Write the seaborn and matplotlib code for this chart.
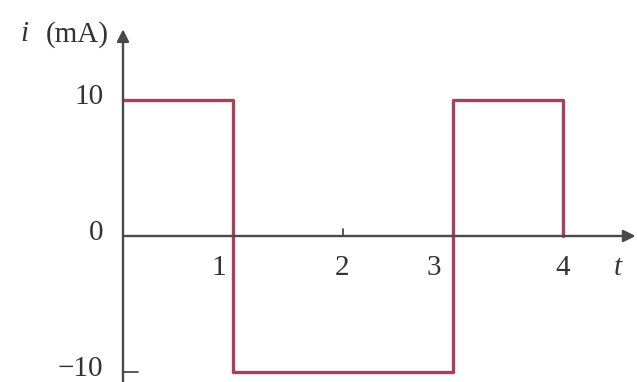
import matplotlib
matplotlib.use("Agg")
import matplotlib.pyplot as plt
import seaborn as sns
import pandas as pd

# waveform vertices
t_vals = [0, 1, 1, 3, 3, 4, 4]
i_vals = [10, 10, -10, -10, 10, 10, 0]
x_tick_labels = ["1", "2", "3", "4"]
x_tick_pos = [1, 2, 3, 4]
y_tick_labels = ["10", "0", "\u221210"]
y_tick_pos = [10, 0, -10]

sns.set_style("white")
plt.rcParams['font.family'] = ['Liberation Serif', 'DejaVu Serif']

fig = plt.figure(figsize=(6.37, 3.82), dpi=100)
ax = fig.add_axes([0, 0, 1, 1])
ax.set_xlim(-123 / 110, (637 - 123) / 110)
ax.set_ylim((236 - 382) / 13.6, 236 / 13.6)
ax.axis('off')

df = pd.DataFrame({"t": t_vals, "i": i_vals})
sns.lineplot(data=df, x="t", y="i", sort=False, estimator=None,
             color="#a8405a", linewidth=2.4, ax=ax)

axis_col = "#4a4a4a"
# x axis with arrow
ax.annotate("", xy=(4.66, 0), xytext=(0, 0),
            arrowprops=dict(arrowstyle="-|>", color=axis_col, lw=1.7,
                            mutation_scale=18, shrinkA=0, shrinkB=0))
# y axis with arrow
ax.annotate("", xy=(0, 15.2), xytext=(0, -11),
            arrowprops=dict(arrowstyle="-|>", color=axis_col, lw=1.7,
                            mutation_scale=18, shrinkA=0, shrinkB=0))
# small ticks
ax.plot([2, 2], [0, 0.5], color=axis_col, lw=1.3)
ax.plot([0, 0.14], [-10, -10], color=axis_col, lw=1.3)

fs = 21
tcol = "#333333"
offsets = {1: -0.13, 2: -0.01, 3: -0.17, 4: 0}
for p, lab in zip(x_tick_pos, x_tick_labels):
    ax.text(p + offsets[p], -2.35, lab, ha="center", va="center", fontsize=fs, color=tcol)
for p, lab in zip(y_tick_pos, y_tick_labels):
    yoff = 0.25 if p == -10 else 0.2
    ax.text(-0.18, p + yoff, lab, ha="right", va="center", fontsize=fs, color=tcol)
ax.text(4.5, -2.35, "t", ha="center", va="center", fontsize=fs, style="italic", color=tcol)
ax.text(-0.9, 14.85, "i", ha="center", va="center", fontsize=fs, style="italic", color=tcol)
ax.text(-0.13, 14.85, "(mA)", ha="right", va="center", fontsize=fs, color=tcol)

fig.savefig("out.png", dpi=100, facecolor="white")
